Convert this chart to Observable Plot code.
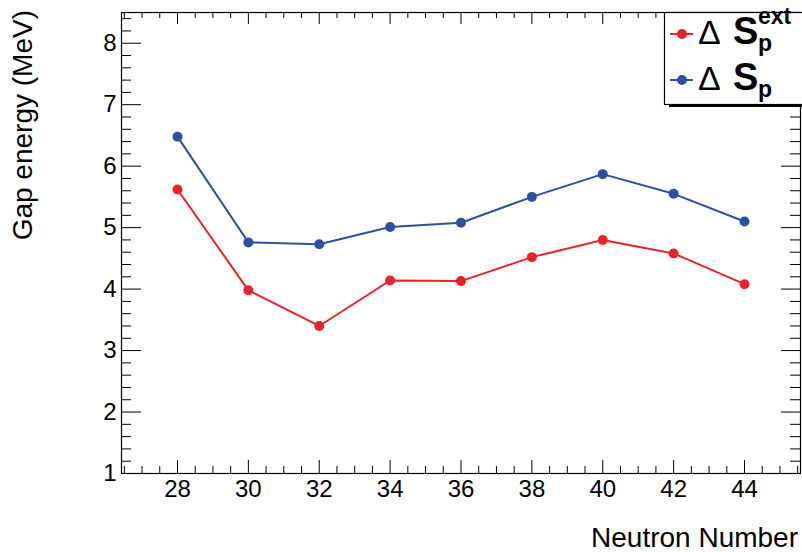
<!DOCTYPE html>
<html>
<head>
<meta charset="utf-8">
<script src="https://cdn.jsdelivr.net/npm/d3@7"></script>
<script src="https://cdn.jsdelivr.net/npm/@observablehq/plot@0.6"></script>
<style>
  html, body { margin: 0; padding: 0; background: white; }
  #wrap { position: relative; width: 802px; height: 552px; font-family: "Liberation Sans", Arial, sans-serif; }
  #legend { position: absolute; left: 664px; top: 12px; }
</style>
</head>
<body>
<div id="wrap"></div>
<script>
// ---- data ----
const neutronNumber = [28, 30, 32, 34, 36, 38, 40, 42, 44];
const gapSpExt = [5.62, 3.98, 3.40, 4.14, 4.13, 4.52, 4.80, 4.58, 4.08];
const gapSp = [6.48, 4.76, 4.73, 5.01, 5.08, 5.50, 5.87, 5.55, 5.10];
const xTickLabels = [28, 30, 32, 34, 36, 38, 40, 42, 44];
const yTickLabels = [1, 2, 3, 4, 5, 6, 7, 8];
const seriesNames = ["ΔSp ext", "ΔSp"];
const xTitle = "Neutron Number";
const yTitle = "Gap energy (MeV)";

const RED = "#e8232b", BLUE = "#2e4fa3";
const W = 802, Hgt = 552, mL = 121, mR = 2, mT = 12, mB = 79;
const FW = W - mL - mR, FH = Hgt - mT - mB;

const rows = [];
neutronNumber.forEach((n, i) => {
  rows.push({n, v: gapSpExt[i], s: seriesNames[0]});
});
neutronNumber.forEach((n, i) => {
  rows.push({n, v: gapSp[i], s: seriesNames[1]});
});

const xMinor = d3.range(26.5, 45.6, 0.5).filter(v => !xTickLabels.includes(v));
const yMinor = d3.range(1.2, 8.45, 0.2).map(v => Math.round(v * 10) / 10).filter(v => !yTickLabels.includes(v));

const color = d => d === seriesNames[0] ? RED : BLUE;

const chart = Plot.plot({
  width: W, height: Hgt,
  marginLeft: mL, marginRight: mR, marginTop: mT, marginBottom: mB,
  x: {domain: [26.42, 45.58]},
  y: {domain: [1, 8.5]},
  style: {fontFamily: "'Liberation Sans', Arial, sans-serif", fontSize: "24px", background: "white", color: "black"},
  marks: [
    // bottom ticks (inward)
    Plot.tickX(xTickLabels, {x: d => d, insetTop: FH - 13, stroke: "black", strokeWidth: 1}),
    Plot.tickX(xMinor, {x: d => d, insetTop: FH - 7, stroke: "black", strokeWidth: 1}),
    // top ticks (inward)
    Plot.tickX(xTickLabels, {x: d => d, insetBottom: FH - 12, stroke: "black", strokeWidth: 1}),
    Plot.tickX(xMinor, {x: d => d, insetBottom: FH - 6, stroke: "black", strokeWidth: 1}),
    // left ticks
    Plot.tickY(yTickLabels, {y: d => d, insetRight: FW - 20, stroke: "black", strokeWidth: 1}),
    Plot.tickY(yMinor, {y: d => d, insetRight: FW - 10, stroke: "black", strokeWidth: 1}),
    // right ticks
    Plot.tickY(yTickLabels, {y: d => d, insetLeft: FW - 19, stroke: "black", strokeWidth: 1}),
    Plot.tickY(yMinor, {y: d => d, insetLeft: FW - 10, stroke: "black", strokeWidth: 1}),
    Plot.frame({stroke: "black", strokeWidth: 1.2}),
    Plot.axisX(xTickLabels, {tickSize: 0, tickPadding: 6, label: null, fontSize: 24, tickFormat: d3.format("d")}),
    Plot.axisY(yTickLabels, {tickSize: 0, tickPadding: 5, label: null, fontSize: 24, tickFormat: d3.format("d")}),
    Plot.line(rows, {x: "n", y: "v", z: "s", stroke: d => color(d.s), strokeWidth: 2}),
    Plot.dot(rows, {x: "n", y: "v", fill: d => color(d.s), r: 5})
  ]
});

const wrap = document.getElementById("wrap");
wrap.appendChild(chart);

const svg = d3.select(chart);
svg.append("text")
  .attr("x", 798).attr("y", 547)
  .attr("text-anchor", "end")
  .attr("font-size", 28).attr("fill", "black")
  .text(xTitle);
svg.append("text")
  .attr("transform", "translate(32,10) rotate(-90)")
  .attr("text-anchor", "end")
  .attr("font-size", 28).attr("fill", "black")
  .text(yTitle);

// ---- legend (overlay) ----
const leg = d3.select(wrap).append("svg")
  .attr("id", "legend")
  .attr("width", 140).attr("height", 100)
  .style("font-family", "'Liberation Sans', Arial, sans-serif")
  .style("overflow", "visible");
// shadow
leg.append("rect").attr("x", 5).attr("y", 3).attr("width", 140).attr("height", 92).attr("fill", "black");
leg.append("rect").attr("x", 0.5).attr("y", 0.5).attr("width", 140).attr("height", 92)
  .attr("fill", "white").attr("stroke", "black").attr("stroke-width", 1.2);

const entries = [
  {c: RED, ly: 22, base: 32, sup: "ext"},
  {c: BLUE, ly: 68, base: 78, sup: null}
];
entries.forEach(e => {
  leg.append("line").attr("x1", 6).attr("x2", 29).attr("y1", e.ly).attr("y2", e.ly)
    .attr("stroke", e.c).attr("stroke-width", 2);
  leg.append("circle").attr("cx", 18).attr("cy", e.ly).attr("r", 5).attr("fill", e.c);
  leg.append("text").attr("x", 34).attr("y", e.base).attr("font-size", 34).attr("fill", "black").text("Δ");
  leg.append("text").attr("x", 69).attr("y", e.base).attr("font-size", 38).attr("font-weight", "bold").attr("fill", "black").text("S");
  leg.append("text").attr("x", 94).attr("y", e.base + 7).attr("font-size", 23).attr("font-weight", "bold").attr("fill", "black").text("p");
  if (e.sup) {
    leg.append("text").attr("x", 94).attr("y", e.base - 20).attr("font-size", 23).attr("font-weight", "bold").attr("fill", "black").text(e.sup);
  }
});
</script>
</body>
</html>
